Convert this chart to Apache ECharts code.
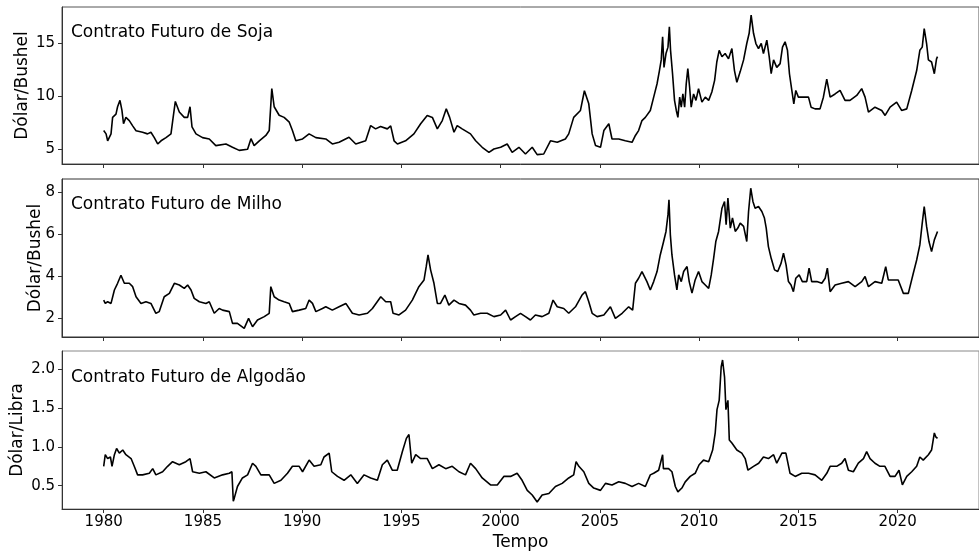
<!DOCTYPE html>
<html><head><meta charset="utf-8">
<script src="https://cdn.jsdelivr.net/npm/echarts@6/dist/echarts.min.js"></script>
<style>html,body{margin:0;padding:0;background:#fff}#c{width:979px;height:554px}</style>
</head><body><div id="c"></div>
<script>
const xTicks = [1980, 1985, 1990, 1995, 2000, 2005, 2010, 2015, 2020];
const sojaTicks = [5, 10, 15];
const milhoTicks = [2, 4, 6, 8];
const algodaoTicks = [0.5, 1.0, 1.5, 2.0];
const titles = ['Contrato Futuro de Soja', 'Contrato Futuro de Milho', 'Contrato Futuro de Algodão'];
const yNames = ['Dólar/Bushel', 'Dólar/Bushel', 'Dólar/Libra'];

const sojaT = [1980.0,1980.12,1980.2,1980.37,1980.45,1980.62,1980.7,1980.82,1980.92,1981.0,1981.12,1981.29,1981.46,1981.63,1981.96,1982.21,1982.38,1982.55,1982.72,1982.89,1983.14,1983.39,1983.5,1983.61,1983.81,1984.06,1984.23,1984.35,1984.45,1984.65,1984.98,1985.32,1985.65,1986.16,1986.49,1986.83,1987.25,1987.42,1987.58,1987.84,1988.17,1988.34,1988.47,1988.59,1988.84,1989.09,1989.35,1989.51,1989.68,1990.02,1990.35,1990.69,1991.19,1991.52,1991.86,1992.36,1992.7,1993.2,1993.45,1993.7,1993.95,1994.29,1994.46,1994.63,1994.8,1995.21,1995.63,1995.97,1996.3,1996.56,1996.81,1997.06,1997.26,1997.43,1997.65,1997.81,1998.06,1998.48,1998.74,1999.07,1999.41,1999.66,2000.0,2000.33,2000.58,2000.92,2001.25,2001.59,2001.84,2002.17,2002.51,2002.85,2003.26,2003.43,2003.68,2004.02,2004.22,2004.44,2004.61,2004.78,2005.03,2005.2,2005.45,2005.61,2005.95,2006.28,2006.62,2006.79,
  2006.95,2007.12,2007.29,2007.54,2007.71,2007.88,2008.0,2008.09,2008.16,2008.23,2008.33,2008.43,2008.5,2008.56,2008.66,2008.76,2008.85,2008.93,2009.02,2009.1,2009.18,2009.27,2009.35,2009.43,2009.52,2009.6,2009.72,2009.84,2009.97,2010.14,2010.31,2010.48,2010.64,2010.78,2010.89,2011.01,2011.15,2011.31,2011.48,2011.65,2011.78,2011.9,2012.07,2012.24,2012.4,2012.52,2012.62,2012.74,2012.86,2012.99,2013.13,2013.24,2013.41,2013.53,2013.63,2013.75,2013.91,2014.08,2014.2,2014.33,2014.45,2014.55,2014.67,2014.77,2014.87,2015.0,2015.17,2015.34,2015.51,2015.64,2015.84,2016.09,2016.26,2016.43,2016.6,2016.85,
  2017.1,2017.35,2017.6,2017.94,2018.19,2018.36,2018.53,2018.86,2019.2,2019.37,2019.62,2019.95,2020.2,2020.46,2020.71,2020.96,2021.12,2021.24,2021.34,2021.46,2021.55,2021.71,2021.85,2021.96,2022.01];
const sojaV = [6.76,6.45,5.8,6.45,8.0,8.3,9.0,9.6,8.65,7.4,8.0,7.7,7.2,6.75,6.6,6.45,6.6,6.1,5.5,5.8,6.1,6.45,8.0,9.5,8.5,8.0,8.0,9.0,7.1,6.45,6.1,5.97,5.35,5.5,5.2,4.9,5.0,6.0,5.35,5.8,6.3,6.76,10.7,9.0,8.2,8.0,7.55,6.76,5.8,5.97,6.45,6.1,5.97,5.5,5.66,6.13,5.5,5.8,7.23,6.92,7.14,6.92,7.2,5.8,5.5,5.8,6.45,7.4,8.18,8.0,6.92,7.7,8.8,8.0,6.6,7.23,6.92,6.45,5.8,5.19,4.72,5.03,5.19,5.5,4.72,5.19,4.56,5.19,4.5,4.56,5.8,5.66,5.97,6.45,8.0,8.65,10.5,9.27,6.45,5.35,5.19,6.76,7.4,5.97,5.97,5.8,5.66,6.3,
  6.76,7.7,8.0,8.65,9.9,11.16,12.4,13.4,15.57,12.7,14.0,14.6,16.5,14.3,12.1,9.6,8.65,8.0,9.9,8.96,10.2,8.96,11.16,12.58,10.85,8.96,10.2,9.6,10.7,9.43,9.9,9.6,10.38,11.48,13.2,14.3,13.7,14.0,13.5,14.47,12.4,11.3,12.3,13.4,14.94,15.9,17.6,15.9,14.94,14.47,14.94,14.0,15.25,13.7,12.1,13.4,12.7,13.05,14.6,15.1,14.3,12.1,10.53,9.27,10.53,9.9,9.9,9.9,9.9,8.96,8.8,8.8,9.9,11.6,9.9,10.2,
  10.53,9.6,9.6,10.06,10.7,9.9,8.5,8.96,8.65,8.18,8.96,9.43,8.65,8.8,10.53,12.4,14.3,14.6,16.35,14.94,13.4,13.2,12.1,13.5,13.7];

const milhoT = [1980.0,1980.08,1980.2,1980.37,1980.54,1980.7,1980.87,1981.04,1981.29,1981.46,1981.63,1981.88,1982.13,1982.38,1982.63,1982.8,1983.05,1983.31,1983.56,1983.81,1984.06,1984.23,1984.4,1984.56,1984.82,1985.15,1985.32,1985.57,1985.82,1985.99,1986.33,1986.49,1986.74,1987.08,1987.3,1987.5,1987.75,1988.09,1988.34,1988.42,1988.59,1988.84,1989.09,1989.35,1989.51,1989.85,1990.18,1990.35,1990.52,1990.69,1991.02,1991.19,1991.52,1991.86,1992.2,1992.53,1992.87,1993.29,1993.54,1993.96,1994.21,1994.46,1994.58,1994.88,1995.21,1995.55,1995.88,1996.14,1996.25,1996.34,1996.47,1996.64,1996.81,1996.97,1997.19,1997.39,1997.65,1997.9,1998.23,1998.48,1998.65,1998.99,1999.32,1999.66,2000.0,2000.25,2000.5,2000.75,2001.0,2001.25,2001.5,2001.75,2002.09,2002.43,2002.64,2002.85,2003.18,2003.43,2003.77,2004.1,2004.27,2004.44,2004.61,2004.86,2005.2,2005.53,2005.78,2006.12,2006.45,2006.65,2006.79,
  2006.95,2007.12,2007.37,2007.54,2007.71,2007.88,2008.04,2008.21,2008.33,2008.43,2008.48,2008.55,2008.63,2008.76,2008.88,2008.97,2009.1,2009.22,2009.39,2009.5,2009.64,2009.8,2009.97,2010.14,2010.31,2010.48,2010.61,2010.73,2010.84,2010.98,2011.15,2011.28,2011.36,2011.45,2011.57,2011.68,2011.82,2011.95,2012.07,2012.24,2012.4,2012.49,2012.6,2012.71,2012.82,2012.99,2013.16,2013.29,2013.38,2013.49,2013.63,2013.8,2013.96,2014.13,2014.25,2014.38,2014.5,2014.63,2014.75,2014.87,2015.04,2015.2,2015.42,2015.54,2015.67,2015.93,2016.18,2016.35,2016.46,2016.6,2016.85,
  2017.18,2017.52,2017.86,2018.19,2018.36,2018.53,2018.86,2019.2,2019.4,2019.53,2019.78,2020.03,2020.29,2020.54,2020.79,2020.96,2021.12,2021.24,2021.34,2021.46,2021.58,2021.71,2021.85,2022.01];
const milhoV = [2.87,2.71,2.79,2.71,3.35,3.67,4.05,3.67,3.67,3.51,3.03,2.71,2.79,2.71,2.24,2.32,3.03,3.19,3.67,3.59,3.43,3.59,3.35,2.95,2.79,2.71,2.79,2.24,2.47,2.39,2.32,1.76,1.76,1.52,2.0,1.6,1.92,2.08,2.24,3.51,3.03,2.87,2.79,2.71,2.32,2.39,2.47,2.87,2.71,2.32,2.47,2.55,2.39,2.55,2.71,2.24,2.16,2.24,2.47,3.03,2.79,2.79,2.24,2.16,2.39,2.87,3.51,3.83,4.46,5.02,4.31,3.67,2.71,2.71,3.11,2.63,2.87,2.71,2.63,2.39,2.16,2.24,2.24,2.08,2.16,2.39,1.92,2.08,2.24,2.08,1.92,2.16,2.08,2.24,2.87,2.55,2.47,2.24,2.55,3.11,3.27,2.79,2.24,2.08,2.16,2.55,2.0,2.24,2.55,2.39,3.67,
  3.91,4.23,3.75,3.35,3.75,4.23,5.02,5.66,6.14,6.94,7.65,5.98,5.02,4.07,3.35,4.07,3.75,4.23,4.47,3.75,3.2,3.83,4.23,3.75,3.59,3.43,4.07,4.86,5.66,6.14,7.25,7.57,6.46,7.73,6.3,6.78,6.14,6.3,6.54,6.38,5.66,7.09,8.2,7.57,7.25,7.33,7.09,6.78,6.3,5.42,4.86,4.31,4.23,4.63,5.1,4.55,3.75,3.59,3.27,3.91,4.07,3.75,3.75,4.39,3.75,3.75,3.67,3.91,4.39,3.27,3.59,
  3.67,3.75,3.51,3.75,3.99,3.51,3.75,3.67,4.46,3.83,3.83,3.83,3.19,3.19,4.15,4.78,5.5,6.54,7.33,6.38,5.66,5.18,5.74,6.14];

const algodaoT = [1980.0,1980.08,1980.2,1980.34,1980.42,1980.54,1980.65,1980.79,1980.96,1981.12,1981.38,1981.54,1981.71,1981.96,1982.3,1982.47,1982.63,1982.97,1983.22,1983.47,1983.81,1984.14,1984.35,1984.48,1984.82,1985.15,1985.57,1985.99,1986.33,1986.46,1986.53,1986.58,1986.74,1986.99,1987.25,1987.5,1987.67,1987.92,1988.34,1988.59,1988.93,1989.26,1989.51,1989.85,1990.02,1990.35,1990.6,1990.94,1991.1,1991.36,1991.49,1991.78,1992.11,1992.45,1992.78,1993.12,1993.45,1993.79,1994.04,1994.29,1994.54,1994.79,1995.05,1995.25,1995.38,1995.52,1995.72,1995.97,1996.3,1996.56,1996.89,1997.23,1997.56,1997.9,1998.23,1998.48,1998.74,1999.07,1999.49,1999.83,2000.16,2000.5,2000.83,2001.08,2001.34,2001.59,2001.84,2002.09,2002.43,2002.76,2003.1,2003.43,2003.68,2003.8,2003.94,2004.19,2004.44,2004.69,2005.03,2005.28,2005.61,2005.95,2006.28,2006.62,2006.95,2007.29,2007.54,2007.71,2007.96,2008.16,2008.2,2008.46,2008.63,2008.8,2008.93,2009.13,2009.3,2009.55,2009.8,2010.0,2010.22,2010.48,2010.68,2010.81,2010.9,2011.01,2011.11,2011.18,2011.28,2011.35,2011.45,2011.52,2011.65,2011.9,2012.15,2012.32,2012.46,2012.74,2013.0,2013.24,2013.49,2013.75,2013.91,2014.17,2014.37,2014.58,2014.84,2015.17,2015.51,2015.84,2016.18,2016.43,2016.6,2016.93,2017.18,2017.35,2017.52,2017.77,2018.02,2018.28,2018.44,2018.61,2018.86,2019.11,2019.36,2019.62,2019.87,2020.07,2020.24,2020.46,2020.71,2020.96,2021.12,2021.29,2021.55,2021.71,2021.85,2021.92,2022.01];
const algodaoV = [0.75,0.9,0.85,0.87,0.75,0.9,0.98,0.92,0.96,0.9,0.85,0.75,0.64,0.64,0.66,0.72,0.64,0.68,0.75,0.81,0.77,0.81,0.85,0.68,0.66,0.68,0.6,0.64,0.66,0.68,0.3,0.34,0.49,0.6,0.64,0.79,0.75,0.64,0.64,0.53,0.57,0.66,0.75,0.75,0.68,0.83,0.75,0.77,0.87,0.92,0.68,0.62,0.57,0.64,0.53,0.64,0.6,0.57,0.77,0.83,0.7,0.7,0.94,1.11,1.16,0.79,0.9,0.85,0.85,0.72,0.77,0.72,0.75,0.68,0.64,0.79,0.72,0.6,0.51,0.51,0.62,0.62,0.66,0.57,0.44,0.38,0.29,0.38,0.4,0.49,0.53,0.6,0.64,0.81,0.75,0.68,0.53,0.47,0.44,0.53,0.51,0.55,0.53,0.49,0.53,0.49,0.64,0.66,0.7,0.9,0.72,0.72,0.68,0.49,0.42,0.47,0.55,0.62,0.66,0.77,0.83,0.81,0.96,1.18,1.48,1.6,2.03,2.12,1.9,1.48,1.6,1.09,1.05,0.96,0.92,0.85,0.7,0.75,0.79,0.87,0.85,0.9,0.79,0.92,0.92,0.66,0.62,0.66,0.66,0.64,0.57,0.66,0.75,0.75,0.79,0.85,0.7,0.68,0.79,0.85,0.94,0.85,0.79,0.75,0.75,0.62,0.62,0.7,0.51,0.62,0.68,0.75,0.87,0.83,0.9,0.96,1.18,1.13,1.11];

const FONT = 'DejaVu Sans';
const grids = [
  {left: 62, top: 7, width: 919, height: 157},
  {left: 62, top: 179, width: 919, height: 158},
  {left: 62, top: 351, width: 919, height: 158}
];
const yRanges = [[3.62, 18.37], [1.11, 8.64], [0.2, 2.236]];
const yTickSets = [sojaTicks, milhoTicks, algodaoTicks];
const yNameGaps = [31, 18, 36];
const titleTops = [24, 196, 369];
const borderColors = ['#555', '#333', '#888'];
const pairs = (T, V) => T.slice(0, Math.min(T.length, V.length)).map((t, i) => [t, V[i]]);
const seriesData = [pairs(sojaT, sojaV), pairs(milhoT, milhoV), pairs(algodaoT, algodaoV)];

const option = {
  animation: false,
  backgroundColor: '#fff',
  textStyle: {fontFamily: FONT},
  title: titles.map((t, i) => ({
    text: t, left: 71, top: titleTops[i], padding: 0,
    textStyle: {fontFamily: FONT, fontSize: 17, fontWeight: 'normal', color: '#000'}
  })),
  grid: grids.map((g, i) => Object.assign({show: true, borderColor: borderColors[i], borderWidth: 1, backgroundColor: 'transparent'}, g)),
  xAxis: grids.map((g, i) => ({
    type: 'value', gridIndex: i, min: 1977.9, max: 2024.1,
    splitLine: {show: false},
    axisLine: {show: true, onZero: false, lineStyle: {color: '#333', width: 1}},
    axisTick: {show: true, inside: false, length: 4, customValues: xTicks, lineStyle: {color: '#333'}},
    axisLabel: {show: i === 2, customValues: xTicks, margin: 6, fontFamily: FONT, fontSize: 15, color: '#000',
      formatter: v => String(Math.round(v))},
    name: i === 2 ? 'Tempo' : '', nameLocation: 'middle', nameGap: 25,
    nameTextStyle: {fontFamily: FONT, fontSize: 17, color: '#000'}
  })),
  yAxis: grids.map((g, i) => ({
    type: 'value', gridIndex: i, min: yRanges[i][0], max: yRanges[i][1],
    splitLine: {show: false},
    axisLine: {show: true, lineStyle: {color: '#333', width: 1}},
    axisTick: {show: true, inside: false, length: 4, customValues: yTickSets[i], lineStyle: {color: '#333'}},
    axisLabel: {customValues: yTickSets[i], margin: 7, fontFamily: FONT, fontSize: 15, color: '#000',
      formatter: v => (i === 2 ? v.toFixed(1) : String(Math.round(v)))},
    name: yNames[i], nameLocation: 'middle', nameGap: yNameGaps[i], nameRotate: 90, nameMoveOverlap: false,
    nameTextStyle: {fontFamily: FONT, fontSize: 17, color: '#000'}
  })),
  series: seriesData.map((d, i) => ({
    type: 'line', xAxisIndex: i, yAxisIndex: i, data: d,
    showSymbol: false, symbol: 'none', clip: true,
    lineStyle: {color: '#000', width: 1.6}
  }))
};
const chart = echarts.init(document.getElementById('c'), null, {renderer: 'canvas'});
chart.setOption(option);
</script></body></html>
